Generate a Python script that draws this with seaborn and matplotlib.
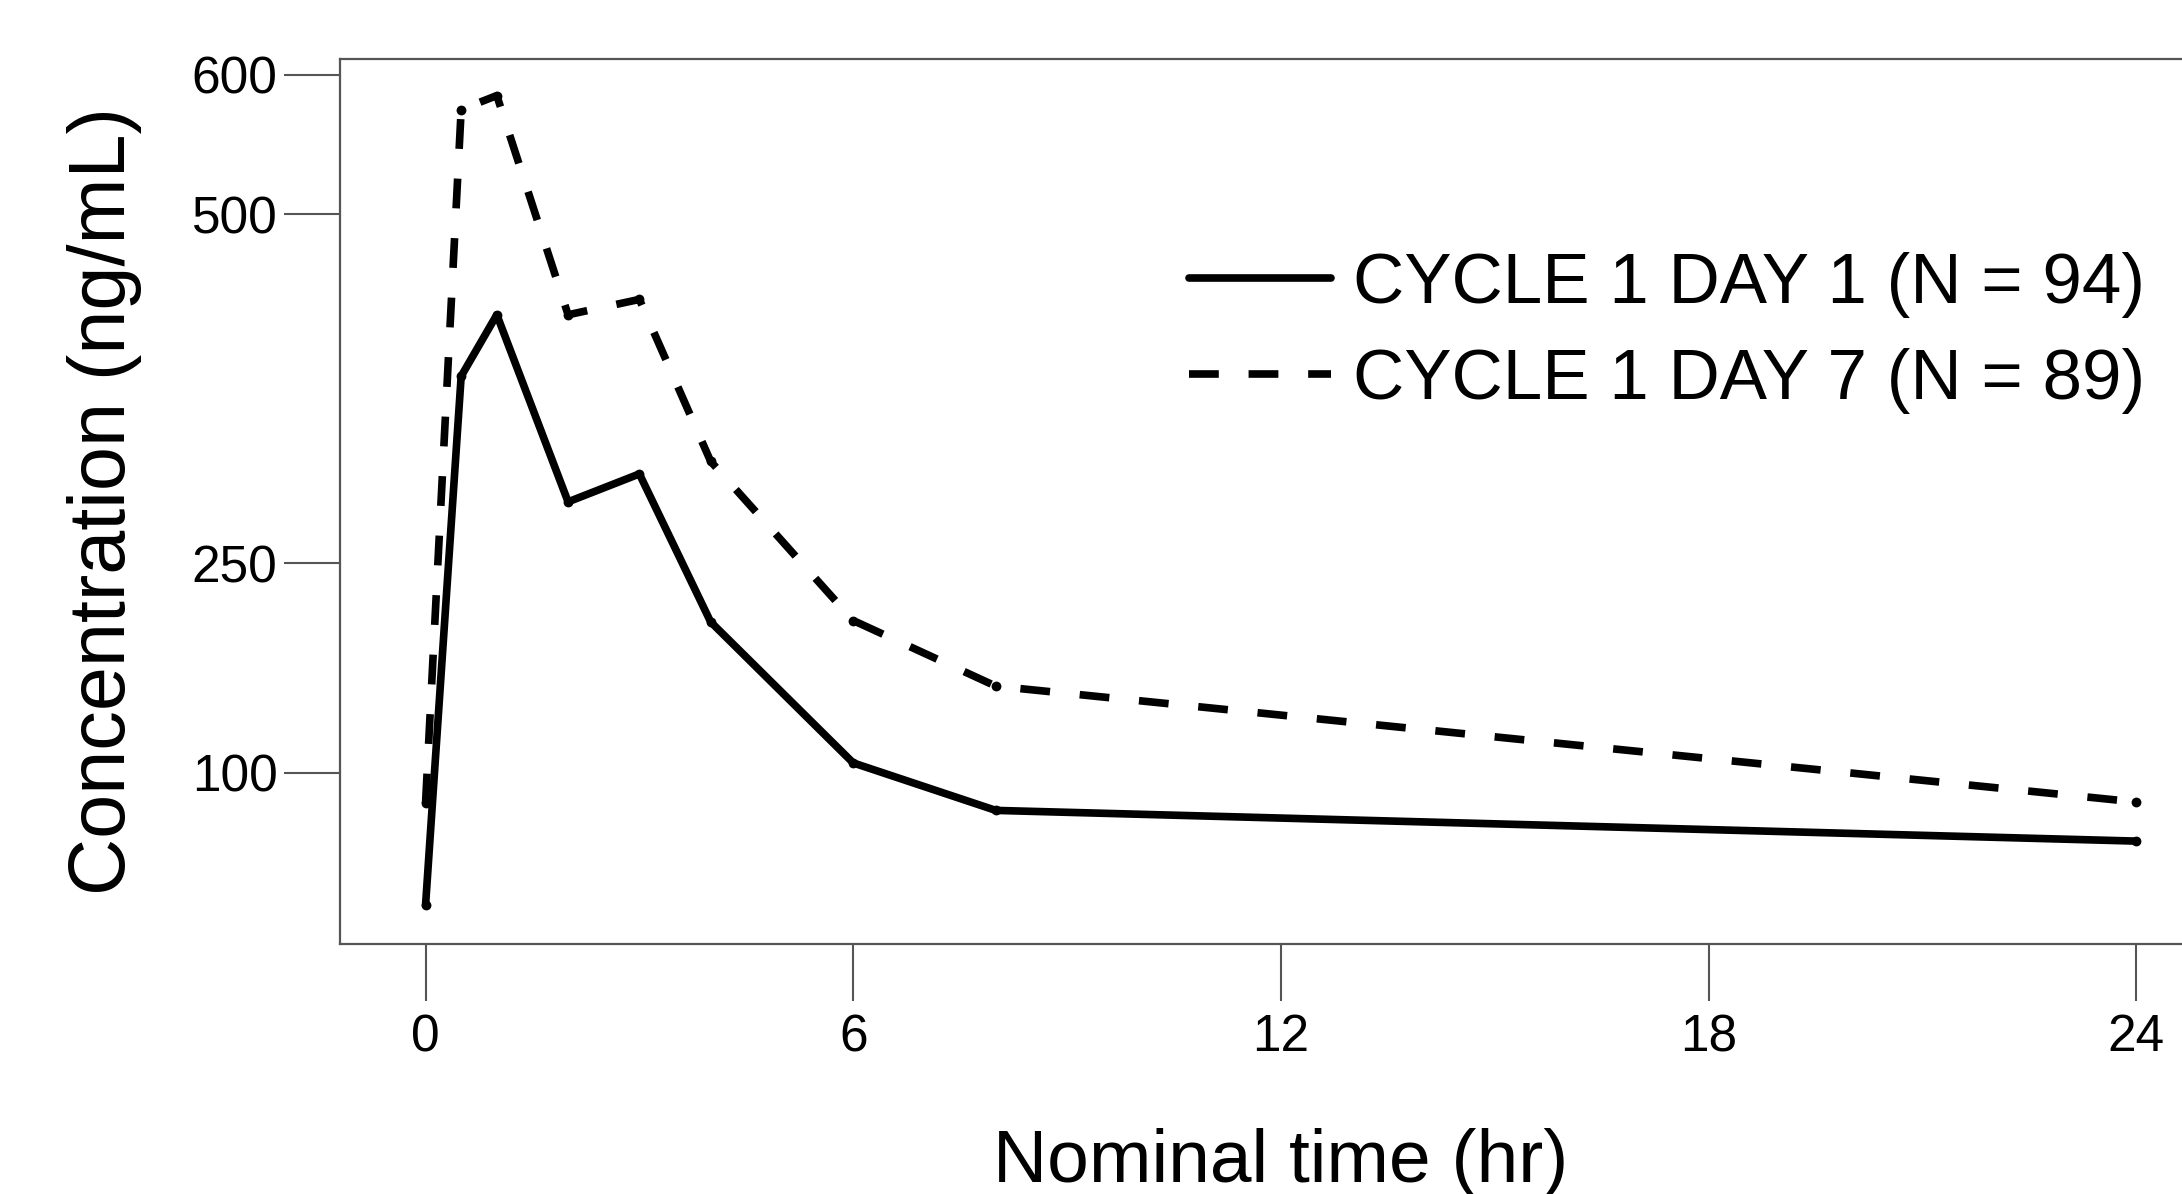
import pandas as pd
import seaborn as sns
import matplotlib.pyplot as plt
from matplotlib.lines import Line2D

# nominal sampling times (hr) and mean concentrations (ng/mL)
time_hr = [0, 0.5, 1, 2, 3, 4, 6, 8, 24]
conc_day1 = [5, 384, 428, 294, 314, 208, 107, 73, 51]
conc_day7 = [78, 575, 585, 428, 439, 323, 209, 162, 79]
labels = ["CYCLE 1 DAY 1 (N = 94)", "CYCLE 1 DAY 7 (N = 89)"]
x_ticks = [0, 6, 12, 18, 24]
y_ticks = [100, 250, 500, 600]

sns.set_theme(style="ticks")
plt.rcParams["font.family"] = ["Liberation Sans", "DejaVu Sans"]
plt.rcParams.update({"text.color": "black", "axes.labelcolor": "black",
                     "xtick.labelcolor": "black", "ytick.labelcolor": "black"})

df = pd.concat([
    pd.DataFrame({"Time": time_hr, "Conc": conc_day1, "Visit": labels[0]}),
    pd.DataFrame({"Time": time_hr, "Conc": conc_day7, "Visit": labels[1]}),
])

fig = plt.figure(figsize=(21.82, 11.94), dpi=100)
ax = fig.add_axes([340 / 2182, 1 - 944 / 1194, 1881.8 / 2182, 885 / 1194])

lw = 5.5
dash_map = {labels[0]: "", labels[1]: (3.9, 3.9)}
sns.lineplot(data=df, x="Time", y="Conc", style="Visit", dashes=dash_map,
             color="black", linewidth=lw, ax=ax, legend=False, sort=False)
# small round dots at each sampled time, like the original
sns.scatterplot(data=df, x="Time", y="Conc", color="black", s=50,
                linewidth=0, ax=ax, legend=False, zorder=3)

ax.set_xlim(-1.2, 25.2)
ax.set_ylim(-22.7, 611.2)
ax.set_xticks(x_ticks)
ax.set_yticks(y_ticks)
ax.tick_params(axis="both", colors="#555555", labelcolor="black", width=1.5)
ax.tick_params(axis="y", length=40, pad=5, labelsize=37)
ax.tick_params(axis="x", length=41, pad=9, labelsize=37)
for s in ax.spines.values():
    s.set_color("#555555")
    s.set_linewidth(1.6)

ax.set_xlabel("Nominal time (hr)", fontsize=54)
ax.set_ylabel("Concentration (ng/mL)", fontsize=57)
ax.xaxis.set_label_coords(0.5, -0.208)
ax.yaxis.set_label_coords(-0.105, 0.5)

handles = [Line2D([], [], color="black", lw=lw),
           Line2D([], [], color="black", lw=lw, dashes=(3.9, 3.9))]
fig.legend(handles, labels, loc="center left",
           bbox_to_anchor=(1189 / 2182, 1 - 333 / 1194),
           frameon=False, fontsize=51, handlelength=2.0,
           handletextpad=0.32, labelspacing=0.42, borderpad=0,
           borderaxespad=0)

fig.savefig("out.png", dpi=100)
